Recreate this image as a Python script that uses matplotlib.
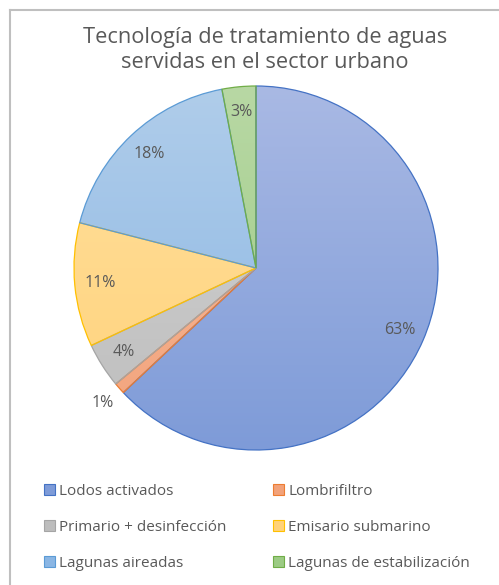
import numpy as np
import matplotlib
matplotlib.use("Agg")
import matplotlib.pyplot as plt
from matplotlib.colors import LinearSegmentedColormap
from matplotlib.patches import Rectangle
from matplotlib.lines import Line2D

categories = ["Lodos activados", "Lombrifiltro", "Primario + desinfección",
              "Emisario submarino", "Lagunas aireadas", "Lagunas de estabilización"]
values = [63, 1, 4, 11, 18, 3]
fill_top = ["#a9b9e4", "#f8c0a2", "#d4d4d4", "#ffe09e", "#b0cdea", "#b8d8a4"]
fill_bot = ["#7e9bd8", "#f2a27a", "#bdbdbd", "#ffd27a", "#8ab6e4", "#9ccb84"]
edges = ["#4472c4", "#ed7d31", "#a5a5a5", "#ffc000", "#5b9bd5", "#70ad47"]

plt.rcParams['font.family'] = ['Open Sans', 'DejaVu Sans']
text_color = "#595959"

fig = plt.figure(figsize=(4.99, 5.85), dpi=100)
fig.patch.set_facecolor("white")

# frame (top and left visible)
fig.add_artist(Line2D([10/499, 10/499], [0, 1 - 10/585], color="#bfbfbf", lw=1.5, transform=fig.transFigure))
fig.add_artist(Line2D([10/499, 1], [1 - 10/585, 1 - 10/585], color="#bfbfbf", lw=1.5, transform=fig.transFigure))

fig.text(265/499, 1 - 50/585, "Tecnología de tratamiento de aguas\nservidas en el sector urbano",
         ha="center", va="center", fontsize=15.7, color=text_color, linespacing=1.25)

# pie axes: center (256,268), radius ~182 px
r = 182
cx, cy = 256, 268
ax = fig.add_axes([(cx - r) / 499, 1 - (cy + r) / 585, 2 * r / 499, 2 * r / 585])
wedges, texts, autotexts = ax.pie(values, startangle=90, counterclock=False,
                                  autopct="%1.0f%%", pctdistance=0.86,
                                  wedgeprops=dict(linewidth=0.9),
                                  textprops=dict(color=text_color, fontsize=11.5))
ax.set_xlim(-1, 1)
ax.set_ylim(-1, 1)
ax.set_aspect("equal")
for i, w in enumerate(wedges):
    w.set_facecolor("none")
    w.set_edgecolor(edges[i])
    w.set_zorder(3)
    cmap = LinearSegmentedColormap.from_list("g%d" % i, [fill_bot[i], fill_top[i]])
    grad = np.linspace(0, 1, 256).reshape(-1, 1)
    im = ax.imshow(grad, extent=[-1, 1, -1, 1], origin="lower", cmap=cmap, aspect="auto", zorder=1)
    im.set_clip_path(w)

# 1% label outside (best fit)
ang = np.deg2rad(90 - 360 * (values[0] + values[1] / 2) / 100)
autotexts[1].set_position((1.12 * np.cos(ang), 1.12 * np.sin(ang)))
for t in autotexts:
    t.set_zorder(5)

# legend, row-major order like the reference
order = [0, 2, 4, 1, 3, 5]
handles = [Rectangle((0, 0), 1, 1, facecolor=fill_bot[i], edgecolor=edges[i], lw=0.8) for i in order]
labels = [categories[i] for i in order]
leg = fig.legend(handles, labels, ncol=2, loc="upper left", bbox_to_anchor=(30/499, 1 - 470/585),
                 frameon=False, fontsize=11, labelcolor=text_color, handlelength=0.75, handleheight=0.75,
                 handletextpad=0.25, columnspacing=3.05, labelspacing=1.38)

fig.savefig("out.png", dpi=100, facecolor="white")
